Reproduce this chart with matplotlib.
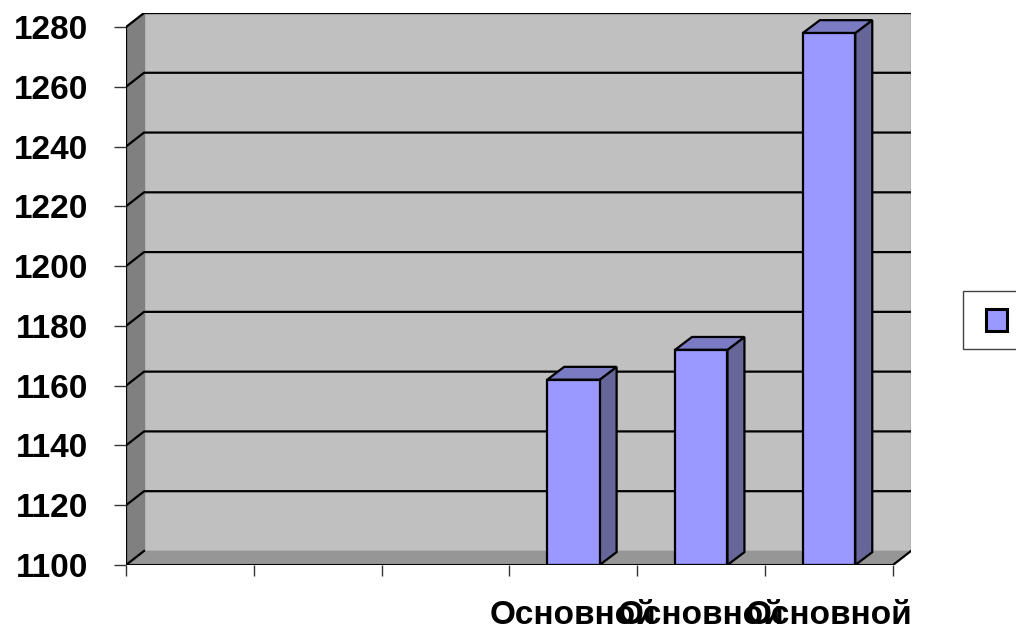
import matplotlib
matplotlib.use('Agg')
import matplotlib.pyplot as plt
from matplotlib.patches import Polygon, Rectangle

# chart data
categories = ['', '', '', 'Основной', 'Основной', 'Основной']
values = [None, None, None, 1162, 1172, 1278]
y_ticks = [1100, 1120, 1140, 1160, 1180, 1200, 1220, 1240, 1260, 1280]
legend_labels = ['']

y_min, y_max = y_ticks[0], y_ticks[-1]
n = len(categories)

# fake 3d depth (data units)
dx, dy = 0.141, 4.7
bdx, bdy = 0.133, 4.3
bar_w = 0.41

font = 'Liberation Sans'
plt.rcParams['font.family'] = [font, 'DejaVu Sans']

fig = plt.figure(figsize=(10.16, 6.32), dpi=100)
ax = fig.add_axes([126 / 1016, 67 / 632, 785 / 1016, 552 / 632])
ax.set_xlim(0, n + dx)
ax.set_ylim(y_min, y_max + dy)
for s in ax.spines.values():
    s.set_visible(False)

# walls and floor
ax.add_patch(Rectangle((dx, y_min + dy), n, y_max - y_min, fc='#c0c0c0',
                       ec='#808080', lw=1, zorder=0))
ax.add_patch(Polygon([(0, y_min), (dx, y_min + dy), (dx, y_max + dy), (0, y_max)],
                     closed=True, fc='#808080', ec='none', zorder=0))
ax.add_patch(Polygon([(0, y_min), (n, y_min), (n + dx, y_min + dy), (dx, y_min + dy)],
                     closed=True, fc='#969696', ec='none', zorder=1))

# gridlines on left and back walls
for v in y_ticks[1:]:
    ax.plot([0, dx, n + dx], [v, v + dy, v + dy], color='black', lw=1.6,
            zorder=1, solid_capstyle='butt')
ax.plot([0, dx], [y_min, y_min + dy], color='black', lw=1.6, zorder=2)
ax.plot([n, n + dx], [y_min, y_min + dy], color='black', lw=1.6, zorder=2)

# bars
for i, v in enumerate(values):
    if v is None:
        continue
    x0 = i + 0.5 - bar_w / 2
    x1 = x0 + bar_w
    ax.add_patch(Polygon([(x1, y_min), (x1 + bdx, y_min + bdy), (x1 + bdx, v + bdy), (x1, v)],
                         closed=True, fc='#666699', ec='black', lw=1.6, zorder=3))
    ax.add_patch(Polygon([(x0, v), (x0 + bdx, v + bdy), (x1 + bdx, v + bdy), (x1, v)],
                         closed=True, fc='#7b7bc4', ec='black', lw=1.6, zorder=3))
    ax.add_patch(Rectangle((x0, y_min), bar_w, v - y_min, fc='#9999ff',
                           ec='black', lw=1.6, zorder=4))

# front axes
ax.plot([0, 0], [y_min, y_max], color='black', lw=1.6, zorder=5)
ax.plot([0, n], [y_min, y_min], color='black', lw=2.2, zorder=5)

ax.set_yticks(y_ticks)
ax.set_yticklabels([str(t) for t in y_ticks], fontsize=24, fontweight='bold')
ax.tick_params(axis='y', direction='out', length=9, width=1, pad=18, color='#333333')

ax.set_xticks(range(n + 1))
ax.set_xticklabels([])
ax.set_xticks([i + 0.5 for i in range(n)], minor=True)
ax.set_xticklabels(categories, minor=True, fontsize=24, fontweight='bold')
ax.tick_params(axis='x', which='major', direction='out', length=8, width=1, color='#333333')
ax.tick_params(axis='x', which='minor', length=0, pad=25)

# legend box (no text), cut off at right edge
fig.patches.append(Rectangle((963 / 1016, (632 - 349) / 632), 80 / 1016, 58 / 632,
                             transform=fig.transFigure, fc='white', ec='#444444', lw=1))
fig.patches.append(Rectangle((986 / 1016, (632 - 331) / 632), 21 / 1016, 22 / 632,
                             transform=fig.transFigure, fc='#9999ff', ec='black', lw=2.2))

fig.savefig('out.png', dpi=100)
